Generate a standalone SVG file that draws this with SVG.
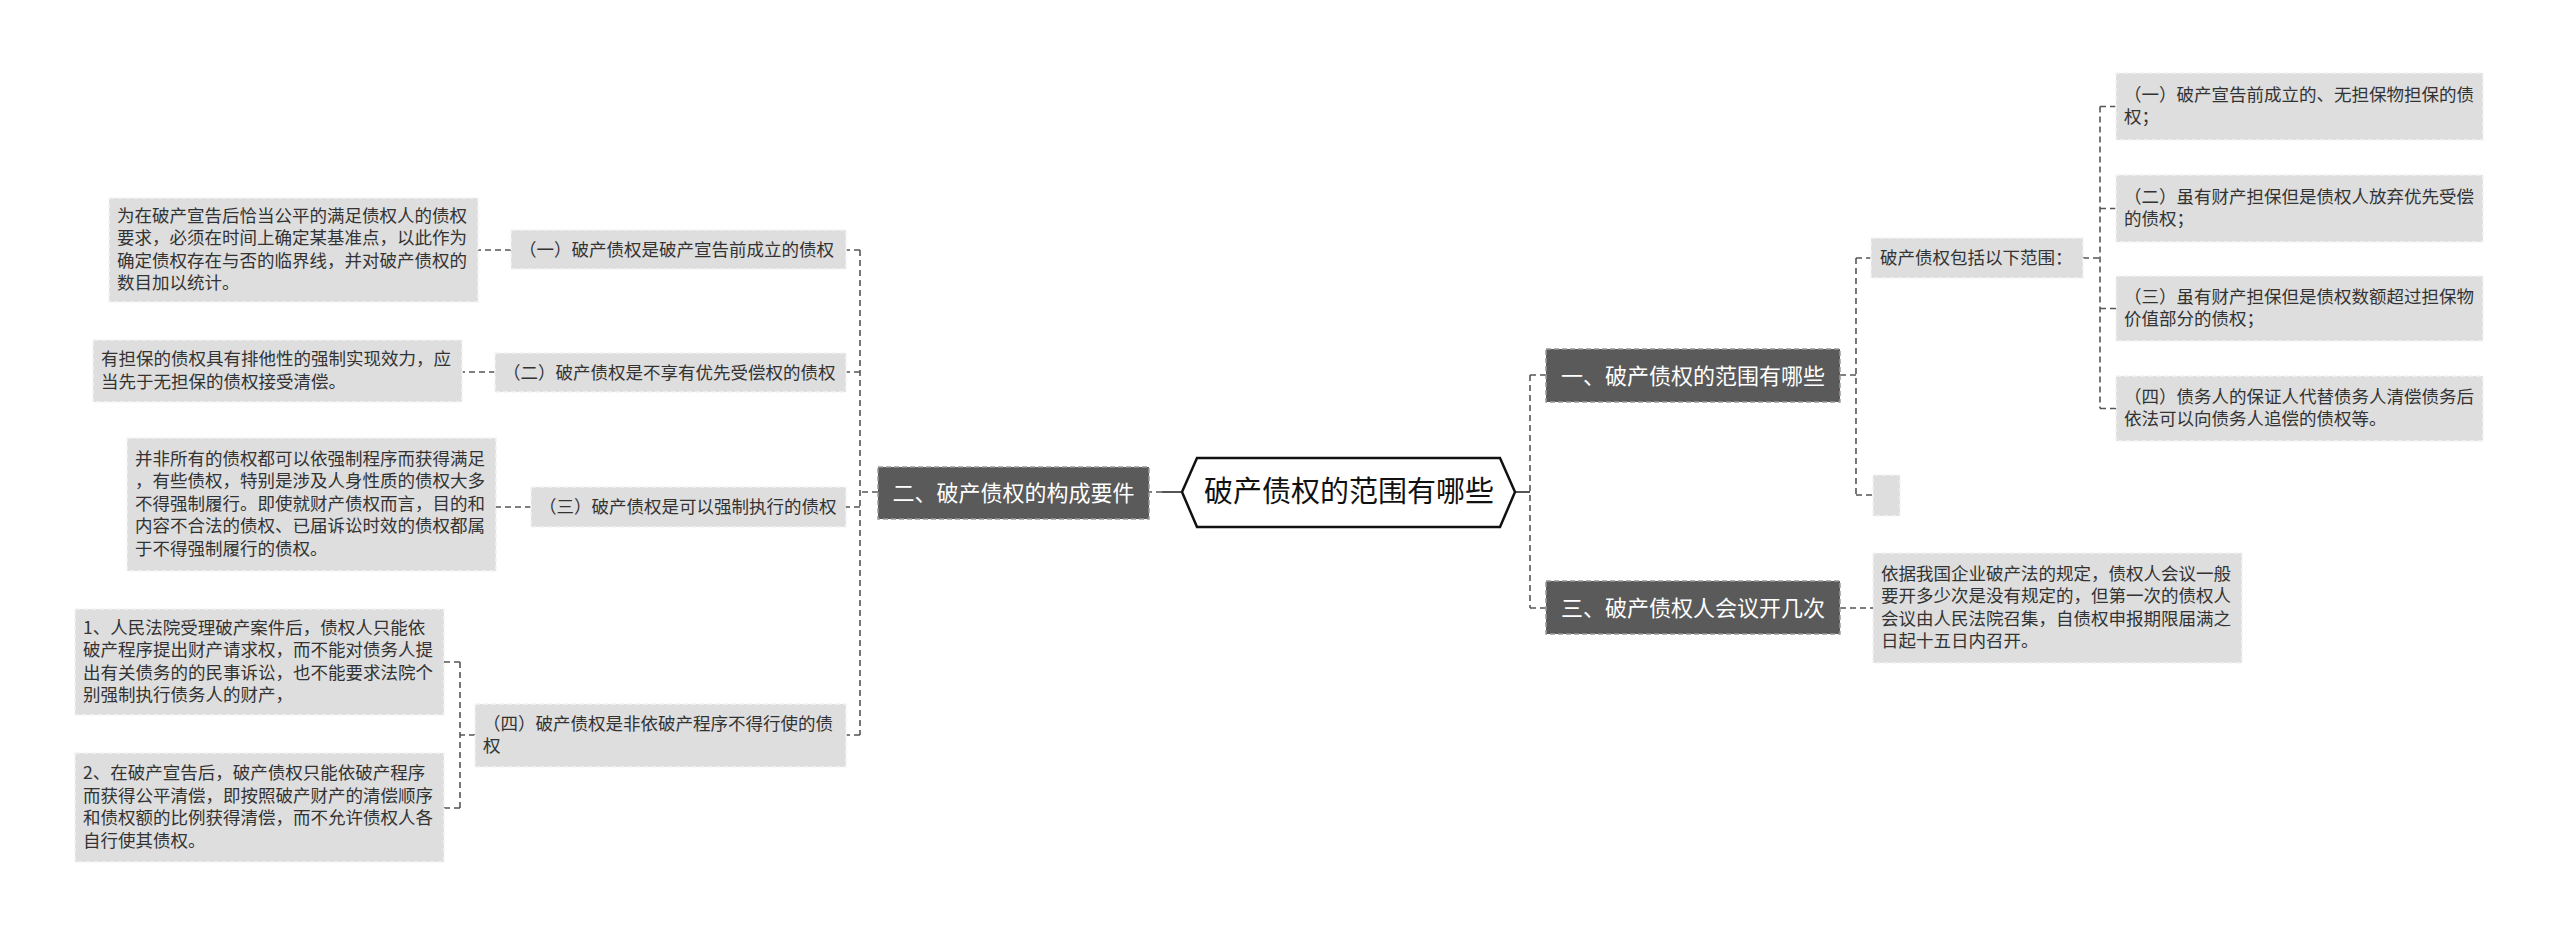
<svg xmlns="http://www.w3.org/2000/svg" width="2560" height="939" viewBox="0 0 2560 939">
<style>
text{font-family:"Noto Sans CJK SC","Noto Sans",sans-serif;}
.leaf{fill:#dedede;stroke:#f4f4f4;stroke-width:1.5;stroke-dasharray:5,3;}
.lt{font-size:17.5px;fill:#333;}
.dark{fill:#5a5a5a;stroke:#999;stroke-width:1.5;stroke-dasharray:5,3;}
.dt{font-size:22px;fill:#fff;text-anchor:middle;}
.con{fill:none;stroke:#555;stroke-width:1.6;stroke-dasharray:6,4;}
.solid{fill:none;stroke:#555;stroke-width:2;}
</style>
<rect width="2560" height="939" fill="#fff"/>
<g id="connectors">
<path class="solid" d="M1182,492 H1162"/>
<path class="con" d="M1162,492 H1149"/>
<path class="con" d="M878,492 H860 M860,250 V735 M860,250 H846 M860,372 H846 M860,507 H846 M860,735 H846"/>
<path class="con" d="M511,250 H478 M495,372 H462 M531,507 H496 M475,735 H460 M460,662 V808 M460,662 H444 M460,808 H444"/>
<path class="solid" d="M1515,492 H1530"/>
<path class="con" d="M1530,375 V608 M1530,375 H1546 M1530,608 H1546"/>
<path class="con" d="M1840,375 H1856 M1856,258 V495 M1856,258 H1871 M1856,495 H1873"/>
<path class="con" d="M2083,258 H2100 M2100,106.5 V408.5 M2100,106.5 H2116 M2100,208.5 H2116 M2100,308.5 H2116 M2100,408.5 H2116"/>
<path class="con" d="M1840,608 H1873"/>
</g>
<g id="root">
<polygon points="1182,492 1197,458 1500,458 1515,492 1500,527 1197,527" fill="#fff" stroke="#111" stroke-width="2.5"/>
<text x="1349" y="502" font-size="29" fill="#111" text-anchor="middle">破产债权的范围有哪些</text>
</g>
<g id="b2">
<rect class="dark" x="878" y="467" width="271" height="52"/>
<text class="dt" x="1013.5" y="501">二、破产债权的构成要件</text>
</g>
<g id="b1">
<rect class="dark" x="1546" y="349" width="294" height="53"/>
<text class="dt" x="1693" y="384">一、破产债权的范围有哪些</text>
</g>
<g id="b3">
<rect class="dark" x="1546" y="581" width="294" height="53"/>
<text class="dt" x="1693" y="616">三、破产债权人会议开几次</text>
</g>
<g id="l1">
<rect class="leaf" x="511" y="230" width="335" height="39"/>
<text class="lt" x="519" y="255.5">（一）破产债权是破产宣告前成立的债权</text>
</g>
<g id="l2">
<rect class="leaf" x="495" y="353" width="351" height="39"/>
<text class="lt" x="503" y="378.5">（二）破产债权是不享有优先受偿权的债权</text>
</g>
<g id="l3">
<rect class="leaf" x="531" y="487" width="315" height="40"/>
<text class="lt" x="539" y="513">（三）破产债权是可以强制执行的债权</text>
</g>
<g id="l4">
<rect class="leaf" x="475" y="704" width="371" height="63"/>
<text class="lt" x="483" y="729.5">（四）破产债权是非依破产程序不得行使的债</text>
<text class="lt" x="483" y="752">权</text>
</g>
<g id="l1a">
<rect class="leaf" x="109" y="198" width="369" height="104"/>
<text class="lt" x="117" y="221.5">为在破产宣告后恰当公平的满足债权人的债权</text>
<text class="lt" x="117" y="244">要求，必须在时间上确定某基准点，以此作为</text>
<text class="lt" x="117" y="266.5">确定债权存在与否的临界线，并对破产债权的</text>
<text class="lt" x="117" y="289">数目加以统计。</text>
</g>
<g id="l2a">
<rect class="leaf" x="93" y="340" width="369" height="62"/>
<text class="lt" x="101" y="365">有担保的债权具有排他性的强制实现效力，应</text>
<text class="lt" x="101" y="387.5">当先于无担保的债权接受清偿。</text>
</g>
<g id="l3a">
<rect class="leaf" x="127" y="438" width="369" height="133"/>
<text class="lt" x="135" y="464.5">并非所有的债权都可以依强制程序而获得满足</text>
<text class="lt" x="135" y="487">，有些债权，特别是涉及人身性质的债权大多</text>
<text class="lt" x="135" y="509.5">不得强制履行。即使就财产债权而言，目的和</text>
<text class="lt" x="135" y="532">内容不合法的债权、已届诉讼时效的债权都属</text>
<text class="lt" x="135" y="554.5">于不得强制履行的债权。</text>
</g>
<g id="l4a">
<rect class="leaf" x="75" y="609" width="369" height="106"/>
<text class="lt" x="83" y="633.5">1、人民法院受理破产案件后，债权人只能依</text>
<text class="lt" x="83" y="656">破产程序提出财产请求权，而不能对债务人提</text>
<text class="lt" x="83" y="678.5">出有关债务的的民事诉讼，也不能要求法院个</text>
<text class="lt" x="83" y="701">别强制执行债务人的财产，</text>
</g>
<g id="l4b">
<rect class="leaf" x="75" y="753" width="369" height="109"/>
<text class="lt" x="83" y="779">2、在破产宣告后，破产债权只能依破产程序</text>
<text class="lt" x="83" y="801.5">而获得公平清偿，即按照破产财产的清偿顺序</text>
<text class="lt" x="83" y="824">和债权额的比例获得清偿，而不允许债权人各</text>
<text class="lt" x="83" y="846.5">自行使其债权。</text>
</g>
<g id="r1">
<rect class="leaf" x="1871" y="238" width="212" height="40"/>
<text class="lt" x="1880" y="264">破产债权包括以下范围：</text>
</g>
<g id="r1empty">
<rect class="leaf" x="1873" y="475" width="27" height="41"/>
</g>
<g id="r1a">
<rect class="leaf" x="2116" y="73" width="367" height="67"/>
<text class="lt" x="2124" y="100.5">（一）破产宣告前成立的、无担保物担保的债</text>
<text class="lt" x="2124" y="123">权；</text>
</g>
<g id="r1b">
<rect class="leaf" x="2116" y="175" width="367" height="67"/>
<text class="lt" x="2124" y="202.5">（二）虽有财产担保但是债权人放弃优先受偿</text>
<text class="lt" x="2124" y="225">的债权；</text>
</g>
<g id="r1c">
<rect class="leaf" x="2116" y="276" width="367" height="65"/>
<text class="lt" x="2124" y="302.5">（三）虽有财产担保但是债权数额超过担保物</text>
<text class="lt" x="2124" y="325">价值部分的债权；</text>
</g>
<g id="r1d">
<rect class="leaf" x="2116" y="376" width="367" height="65"/>
<text class="lt" x="2124" y="402.5">（四）债务人的保证人代替债务人清偿债务后</text>
<text class="lt" x="2124" y="425">依法可以向债务人追偿的债权等。</text>
</g>
<g id="r3a">
<rect class="leaf" x="1873" y="553" width="369" height="110"/>
<text class="lt" x="1881" y="579.5">依据我国企业破产法的规定，债权人会议一般</text>
<text class="lt" x="1881" y="602">要开多少次是没有规定的，但第一次的债权人</text>
<text class="lt" x="1881" y="624.5">会议由人民法院召集，自债权申报期限届满之</text>
<text class="lt" x="1881" y="647">日起十五日内召开。</text>
</g>
</svg>
